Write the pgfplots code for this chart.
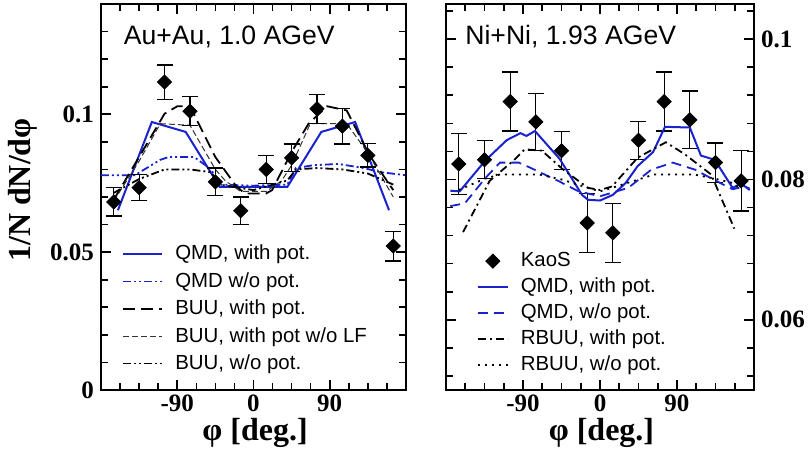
\documentclass[border=0pt]{standalone}
\usepackage{fontspec}
\setmainfont{Liberation Serif}
\newfontfamily\arial{Liberation Sans}
\usepackage{pgfplots}
\pgfplotsset{compat=1.18}

\definecolor{qblue}{RGB}{25,35,205}

\pgfplotsset{
  panel/.style={
    scale only axis, height=193pt,
    xmin=-180, xmax=180,
    xtick={-90,0,90}, xticklabels={-90,0,90},
    minor xtick={-157.5,-135,-112.5,-67.5,-45,-22.5,22.5,45,67.5,112.5,135,157.5},
    xtick pos=both, ytick pos=both, xticklabel pos=lower,
    tick align=inside, major tick length=5pt, minor tick length=3.5pt,
    axis line style={line width=0.9pt},
    every tick/.style={line width=0.8pt, black},
    tick label style={font=\bfseries\fontsize{12.5}{13}\selectfont},
    xticklabel style={yshift=1pt},
    xlabel={φ [deg.]},
    xlabel style={font=\bfseries\fontsize{16}{16}\selectfont, inner sep=0pt,
      at={(axis description cs:0.505,-0.111)}, anchor=center},
    legend cell align=left,
    legend style={draw=none, fill=none, inner sep=0pt, outer sep=0pt,
      font=\arial\fontsize{10.2}{11}\selectfont, row sep=1.8pt,
      nodes={inner sep=1.5pt},
      /tikz/every odd column/.append style={column sep=4.5pt}},
  },
  kaos/.style={only marks, mark=square*, mark size=2.5pt,
    mark options={rotate=45, fill=black, draw=black}, black,
    error bars/y dir=both, error bars/y explicit,
    error bars/error mark options={rotate=90, mark size=4pt, line width=0.6pt, black},
    error bars/error bar style={line width=0.6pt, black}},
  markleg/.style={legend image code/.code={\draw[##1] plot coordinates {(7.5pt,0pt)};}},
  qmdpot/.style={qblue, line width=1pt},
  dashdotdot/.style={dash pattern=on 4pt off 1.5pt on 1pt off 1.5pt on 1pt off 1.5pt},
}

\begin{document}
\begin{tikzpicture}
% left panel: Au+Au
\begin{axis}[panel, width=152.5pt, at={(0pt,0pt)}, anchor=south west,
  ymin=0, ymax=0.14,
  ytick={0,0.05,0.1}, yticklabels={0,0.05,0.1},
  minor ytick={0.01,0.02,0.03,0.04,0.06,0.07,0.08,0.09,0.11,0.12,0.13},
  yticklabel pos=left,
  ylabel={1/N dN/dφ},
  ylabel style={font=\bfseries\fontsize{16}{16}\selectfont,
    at={(axis description cs:-0.256,0.518)}, anchor=center},
  legend image code/.code={\draw[#1] (0pt,0pt) -- (19.5pt,0pt);},
  legend style={at={(axis description cs:0.07,0.383)}, anchor=north west},
]
\addplot[qmdpot] coordinates {
  (-160,0.0652) (-120,0.0972) (-80,0.0936) (-40,0.0737) (0,0.0737)
  (40,0.0737) (80,0.0936) (120,0.0972) (160,0.0652)};
\addlegendentry{QMD, with pot.}
\addplot[qblue, line width=0.9pt, dashdotdot] coordinates {
  (-180,0.0779) (-140,0.0779) (-110,0.0835) (-100,0.0845) (-70,0.0845)
  (-50,0.0800) (-40,0.0745) (0,0.0741) (40,0.0745) (50,0.0805)
  (70,0.0815) (100,0.0820) (130,0.0805) (150,0.0790) (180,0.0779)};
\addlegendentry{QMD w/o pot.}
\addplot[black, line width=0.9pt, dash pattern=on 6pt off 3pt] coordinates {
  (-165,0.0690) (-135,0.0845) (-105,0.1002) (-90,0.1029) (-75,0.1029)
  (-45,0.0845) (-20,0.0737) (-10,0.0713) (15,0.0713) (22,0.0725)
  (45,0.0863) (65,0.0966) (87,0.1029) (110,0.1014) (137,0.0851) (165,0.0725)};
\addlegendentry{BUU, with pot.}
\addplot[black!80, line width=0.5pt, dash pattern=on 3pt off 1.5pt] coordinates {
  (-165,0.0685) (-135,0.0830) (-110,0.0966) (-75,0.0960) (-45,0.0800)
  (-33,0.0758) (-15,0.0720) (15,0.0720) (33,0.0758) (45,0.0815)
  (67,0.0966) (110,0.0966) (135,0.0860) (165,0.0700)};
\addlegendentry{BUU, with pot w/o LF}
\addplot[black, line width=0.9pt, dashdotdot] coordinates {
  (-165,0.0715) (-135,0.0765) (-105,0.0800) (-75,0.0800) (-50,0.0790)
  (-40,0.0745) (0,0.0725) (40,0.0760) (50,0.0800) (75,0.0805)
  (105,0.0800) (135,0.0785) (165,0.0745)};
\addlegendentry{BUU, w/o pot.}
\addplot[kaos] table[y error index=2] {
-165 0.0682 0.0051
-135 0.0734 0.0047
-105 0.1117 0.0062
-75  0.1011 0.0053
-45  0.0755 0.0050
-15  0.0650 0.0050
15   0.0800 0.0050
45   0.0842 0.0050
75   0.1020 0.0053
105  0.0957 0.0065
135  0.0851 0.0042
165  0.0522 0.0054
};
\node[font=\arial\fontsize{13.3}{14}\selectfont, anchor=west]
  at (axis description cs:0.052,0.915) {Au+Au, 1.0 AGeV};
\end{axis}

% right panel: Ni+Ni
\begin{axis}[panel, width=154pt, at={(172.5pt,0pt)}, anchor=south west,
  ymin=0.05, ymax=0.105,
  ytick={0.06,0.08,0.1}, yticklabels={0.06,0.08,0.1},
  minor ytick={0.052,0.056,0.064,0.068,0.072,0.076,0.084,0.088,0.092,0.096,0.104},
  yticklabel pos=right,
  legend image code/.code={\draw[#1] (0pt,0pt) -- (15pt,0pt);},
  legend style={at={(axis description cs:0.10,0.364)}, anchor=north west, row sep=1.1pt},
]
\addplot[markleg, kaos] table[y error index=2] {
-165 0.0822 0.0043
-135 0.0828 0.0027
-105 0.0911 0.0042
-75  0.0882 0.0041
-45  0.0841 0.0027
-15  0.0738 0.0042
15   0.0724 0.0042
45   0.0856 0.0027
75   0.0911 0.0042
105  0.0885 0.0041
135  0.0824 0.0028
165  0.0798 0.0043
};
\addlegendentry{KaoS}
\addplot[qmdpot] coordinates {
  (-175,0.0784) (-164,0.0783) (-134,0.0827) (-109,0.0856) (-93,0.0866)
  (-86,0.0862) (-76,0.0869) (-47,0.0829) (-21,0.0778) (-14,0.0771)
  (0,0.0770) (15,0.0778) (30,0.0795) (44,0.0819) (62,0.0839) (76,0.0875)
  (105,0.0874) (118,0.0834) (134,0.0828) (155,0.0788) (165,0.0794) (175,0.0785)};
\addlegendentry{QMD, with pot.}
\addplot[qblue, line width=0.9pt, dash pattern=on 5pt off 3pt] coordinates {
  (-175,0.0762) (-158,0.0766) (-134,0.0802) (-117,0.0824) (-95,0.0824)
  (-82,0.0817) (-49,0.0798) (-25,0.0783) (0,0.0776) (33,0.0788)
  (60,0.0814) (85,0.0824) (111,0.0814) (134,0.0799) (155,0.0786)
  (169,0.0790) (175,0.0787)};
\addlegendentry{QMD, w/o pot.}
\addplot[black, line width=0.9pt, dash pattern=on 4pt off 2pt on 1pt off 2pt] coordinates {
  (-160,0.0725) (-129,0.0798) (-101,0.0827) (-88,0.0843) (-68,0.0841)
  (-43,0.0814) (-14,0.0788) (0,0.0785) (14,0.0790) (44,0.0831)
  (77,0.0853) (99,0.0836) (130,0.0807) (144,0.0767) (157,0.0730)};
\addlegendentry{RBUU, with pot.}
\addplot[black, line width=0.9pt, dash pattern=on 1pt off 2.5pt] coordinates {
  (-165,0.0785) (-135,0.0801) (-117,0.0807) (-71,0.0807) (-45,0.0800)
  (-14,0.0788) (0,0.0783) (14,0.0788) (45,0.0800) (63,0.0807)
  (110,0.0807) (135,0.0801) (155,0.0795) (165,0.0785)};
\addlegendentry{RBUU, w/o pot.}
\node[font=\arial\fontsize{13.3}{14}\selectfont, anchor=west]
  at (axis description cs:0.040,0.915) {Ni+Ni, 1.93 AGeV};
\end{axis}
\pgfresetboundingbox
\path (-50.5pt,-32.5pt) rectangle (354pt,195pt);
\end{tikzpicture}
\end{document}
